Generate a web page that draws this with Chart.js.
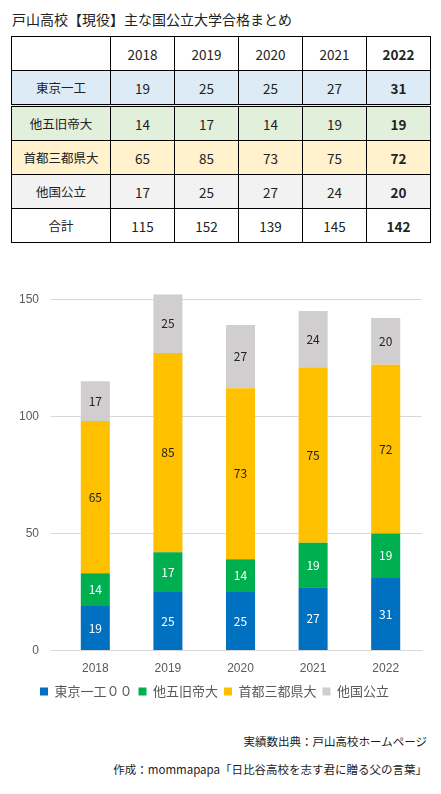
<!DOCTYPE html>
<html><head><meta charset="utf-8">
<script src="https://cdn.jsdelivr.net/npm/chart.js@4"></script>
<style>
body{margin:0;width:441px;height:794px;background:#fff;font-family:"Noto Sans CJK JP","Noto Sans",sans-serif;position:relative;overflow:hidden}
#title{position:absolute;left:12px;top:9px;font-size:14px;color:#222}
table{position:absolute;left:11px;top:36px;border-collapse:collapse;font-size:13.5px;color:#222}
td{border:1px solid #000;height:33px;text-align:center;padding:0;width:63px;font-family:"Noto Sans CJK JP",sans-serif}
td:first-child{width:98px;font-size:12.5px}
td:last-child{font-weight:bold}
tr.r1 td{background:#DDEBF7;border-bottom:3px double #000}
tr.r2 td{background:#E2EFDA}
tr.r3 td{background:#FFF2CC}
tr.r4 td{background:#F2F2F2}
#wrap{position:absolute;left:0;top:280px;width:441px;height:428px}
.foot{position:absolute;right:14px;font-size:11.5px;color:#222}
</style></head><body>
<div id="title">戸山高校【現役】主な国公立大学合格まとめ</div>
<table id="tbl"></table>
<div id="wrap"><canvas id="c"></canvas></div>
<div class="foot" style="top:733px">実績数出典：戸山高校ホームページ</div>
<div class="foot" style="top:761px">作成：mommapapa「日比谷高校を志す君に贈る父の言葉」</div>
<script>
const years=['2018','2019','2020','2021','2022'];
const tokyo=[19,25,25,27,31];
const teidai=[14,17,14,19,19];
const shuto=[65,85,73,75,72];
const other=[17,25,27,24,20];
const totals=[115,152,139,145,142];
const rowNames=['東京一工','他五旧帝大','首都三都県大','他国公立','合計'];
const legendNames=['東京一工００','他五旧帝大','首都三都県大','他国公立'];
const tbl=document.getElementById('tbl');
let h='<tr><td></td>'+years.map(y=>'<td>'+y+'</td>').join('')+'</tr>';
[tokyo,teidai,shuto,other,totals].forEach((a,i)=>{h+='<tr class="r'+(i+1)+'"><td>'+rowNames[i]+'</td>'+a.map(v=>'<td>'+v+'</td>').join('')+'</tr>';});
tbl.innerHTML=h;
const labelPlugin={id:'lbl',afterDatasetsDraw(ch){const c=ch.ctx;c.save();c.font='12px "Noto Sans CJK JP",sans-serif';c.textAlign='center';c.textBaseline='middle';
ch.data.datasets.forEach((ds,i)=>{ch.getDatasetMeta(i).data.forEach((b,j)=>{c.fillStyle=i<2?'#fff':'#222';c.fillText(ds.data[j],b.x,(b.y+b.base)/2);});});c.restore();}};
new Chart(document.getElementById('c'),{type:'bar',
data:{labels:years,datasets:[
{label:legendNames[0],data:tokyo,backgroundColor:'#0070C0'},
{label:legendNames[1],data:teidai,backgroundColor:'#00B050'},
{label:legendNames[2],data:shuto,backgroundColor:'#FFC000'},
{label:legendNames[3],data:other,backgroundColor:'#D0CECE'}]},
options:{responsive:true,maintainAspectRatio:false,animation:false,
layout:{padding:{top:19,right:19,left:7,bottom:0}},
datasets:{bar:{barPercentage:0.4,categoryPercentage:1,clip:false}},
scales:{x:{stacked:true,grid:{display:false},border:{color:'#D9D9D9'},ticks:{color:'#595959',font:{size:12}}},
y:{stacked:true,min:0,max:150,ticks:{stepSize:50,color:'#595959',font:{size:12},padding:12},grid:{color:'#D9D9D9'},border:{display:false}}},
plugins:{legend:{position:'bottom',labels:{boxWidth:8,boxHeight:8,color:'#595959',font:{size:13,family:'"Noto Sans CJK JP"'},padding:6}},tooltip:{enabled:false}}},
plugins:[labelPlugin]});
</script></body></html>
